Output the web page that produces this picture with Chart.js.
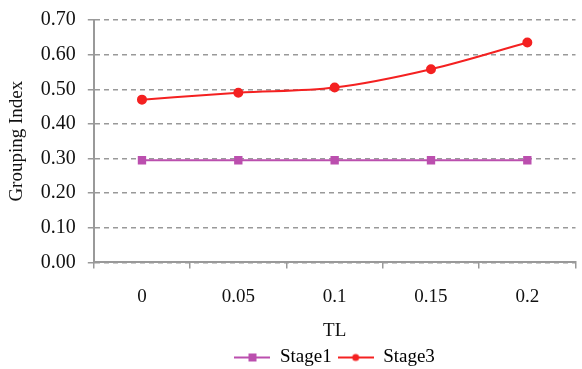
<!DOCTYPE html>
<html>
<head>
<meta charset="utf-8">
<script src="https://cdn.jsdelivr.net/npm/chart.js@4.4.0/dist/chart.umd.min.js"></script>
<style>
  html, body { margin: 0; padding: 0; background: #fff; }
  #wrap { width: 582px; height: 369px; }
</style>
</head>
<body>
<div id="wrap"><canvas id="chart" width="582" height="369"></canvas></div>
<script>
const categories = ["0", "0.05", "0.1", "0.15", "0.2"];
const stage1 = [0.295, 0.295, 0.295, 0.295, 0.295];
const stage3 = [0.47, 0.49, 0.505, 0.558, 0.635];
const yTicks = [0, 0.1, 0.2, 0.3, 0.4, 0.5, 0.6, 0.7];

const STAGE1_COLOR = "#BB4FAE";
const STAGE3_COLOR = "#F42121";
const FONT = "'Liberation Serif', serif";

Chart.defaults.font.family = FONT;
Chart.defaults.font.size = 19;
Chart.defaults.color = "#111";

function legendIcon(color, style) {
  const c = document.createElement("canvas");
  c.width = 36;
  c.height = 12;
  const g = c.getContext("2d");
  g.strokeStyle = color;
  g.lineWidth = 2;
  g.beginPath();
  g.moveTo(0, 6);
  g.lineTo(36, 6);
  g.stroke();
  g.fillStyle = color;
  if (style === "rect") {
    g.fillRect(14, 2, 8, 8);
  } else {
    g.beginPath();
    g.arc(18, 6, 3.5, 0, Math.PI * 2);
    g.fill();
  }
  return c;
}

function drawChart() {
  const icons = [legendIcon(STAGE1_COLOR, "rect"), legendIcon(STAGE3_COLOR, "circle")];

  new Chart(document.getElementById("chart"), {
    type: "line",
    data: {
      labels: categories,
      datasets: [
        {
          label: "Stage1",
          data: stage1,
          borderColor: STAGE1_COLOR,
          backgroundColor: STAGE1_COLOR,
          borderWidth: 2,
          pointStyle: "rect",
          pointRadius: 4.5,
          tension: 0,
        },
        {
          label: "Stage3",
          data: stage3,
          borderColor: STAGE3_COLOR,
          backgroundColor: STAGE3_COLOR,
          borderWidth: 2,
          pointStyle: "circle",
          pointRadius: 4,
          cubicInterpolationMode: "monotone",
        },
      ],
    },
    options: {
      responsive: false,
      animation: false,
      layout: { padding: { left: 0, right: 0, top: 0, bottom: -8 } },
      plugins: {
        tooltip: { enabled: false },
        legend: {
          position: "bottom",
          fullSize: false,
          labels: {
            usePointStyle: true,
            pointStyleWidth: 36,
            boxHeight: 12,
            padding: 6,
            font: { family: FONT, size: 19 },
            generateLabels: (chart) =>
              chart.data.datasets.map((ds, i) => ({
                text: ds.label,
                pointStyle: icons[i],
                fillStyle: ds.borderColor,
                strokeStyle: ds.borderColor,
                lineWidth: 0,
                datasetIndex: i,
                hidden: false,
              })),
          },
        },
      },
      scales: {
        x: {
          offset: true,
          border: { color: "#999", width: 2 },
          grid: {
            offset: true,
            drawOnChartArea: false,
            color: "#999",
            lineWidth: 1.5,
            tickLength: 6,
          },
          ticks: {
            font: { family: FONT, size: 19 },
            padding: 17,
          },
          title: {
            display: true,
            text: "TL",
            font: { family: FONT, size: 19 },
            padding: { top: -6, bottom: 0 },
          },
        },
        y: {
          min: 0,
          max: 0.7,
          afterBuildTicks: (axis) => {
            axis.ticks = yTicks.map((v) => ({ value: v }));
          },
          afterFit: (axis) => {
            axis.paddingTop = 20;
          },
          border: { color: "#999", width: 2, dash: [5, 4] },
          grid: {
            color: "#999",
            lineWidth: 1.5,
            tickLength: 6,
            tickColor: "#999",
          },
          ticks: {
            font: { family: FONT, size: 20 },
            padding: 12,
            callback: (v) => Number(v).toFixed(2),
          },
          title: {
            display: true,
            text: "Grouping Index",
            font: { family: FONT, size: 19 },
            padding: { top: 6, bottom: 0 },
          },
        },
      },
    },
  });
}

document.fonts.load("19px 'Liberation Serif'").then(drawChart, drawChart);
</script>
</body>
</html>
